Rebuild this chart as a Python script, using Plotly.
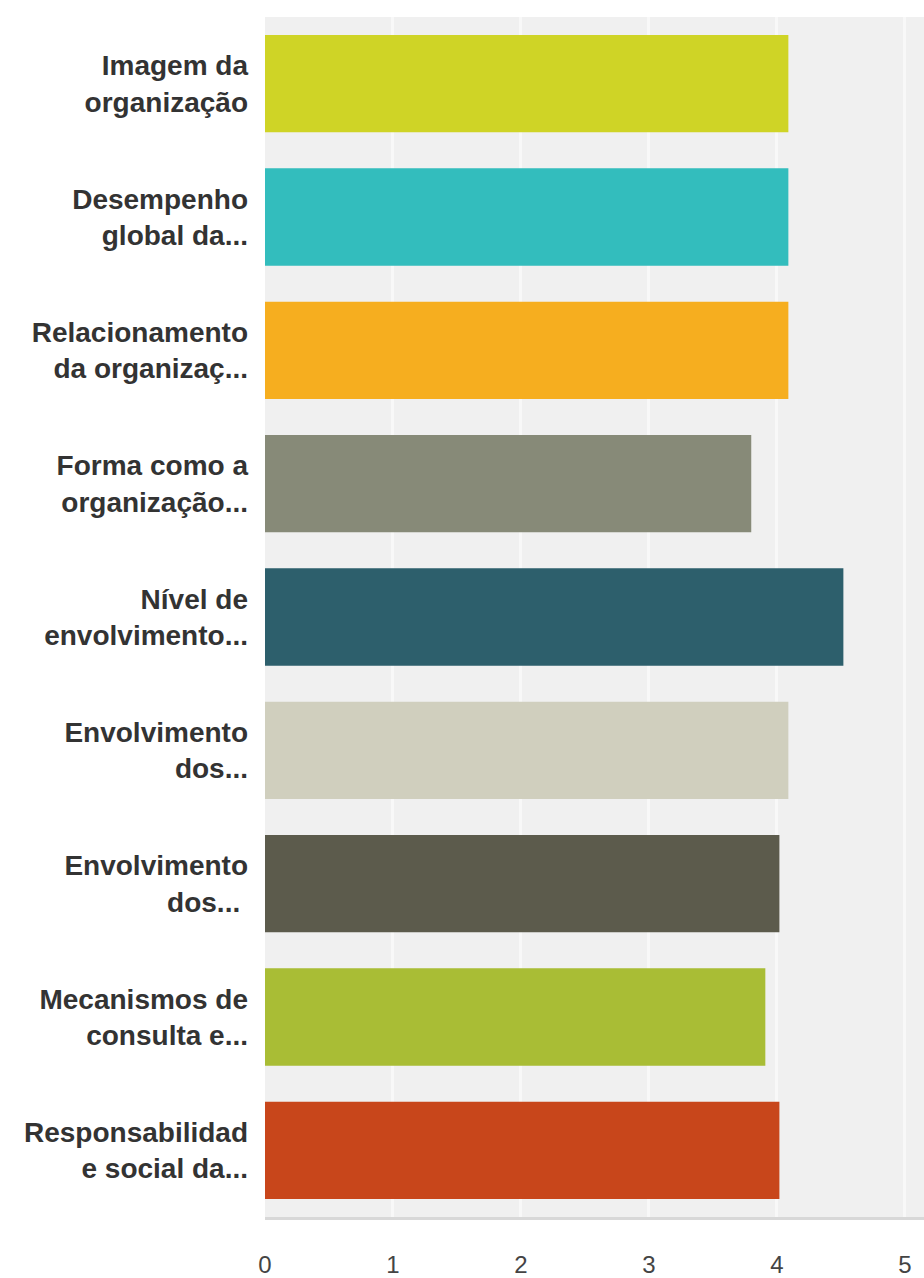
import plotly.graph_objects as go

# Survey item labels (truncated as displayed) and their average scores
categories = [
    "Imagem da<br>organização",
    "Desempenho<br>global da...",
    "Relacionamento<br>da organizaç...",
    "Forma como a<br>organização...",
    "Nível de<br>envolvimento...",
    "Envolvimento<br>dos...",
    "Envolvimento<br>dos... ",
    "Mecanismos de<br>consulta e...",
    "Responsabilidad<br>e social da...",
]
scores = [4.09, 4.09, 4.09, 3.80, 4.52, 4.09, 4.02, 3.91, 4.02]
bar_colors = [
    "#cfd426", "#33bdbd", "#f6ae1f", "#878a78", "#2d5f6c",
    "#d0cfbe", "#5c5b4c", "#a9bd35", "#c8461b",
]
x_ticks = [0, 1, 2, 3, 4, 5]

fig = go.Figure(
    go.Bar(
        x=scores,
        y=categories,
        orientation="h",
        marker=dict(color=bar_colors, line=dict(width=0)),
        hoverinfo="x+y",
    )
)

fig.update_layout(
    width=924,
    height=1278,
    margin=dict(l=265, r=0, t=17, b=61),
    paper_bgcolor="white",
    plot_bgcolor="#f0f0f0",
    bargap=0.27,
    showlegend=False,
    font=dict(family="Liberation Sans, Arial, sans-serif"),
)

fig.update_xaxes(
    range=[0, 5.15],
    tickvals=x_ticks,
    ticktext=[str(t) for t in x_ticks],
    showgrid=True,
    gridcolor="#f8f8f8",
    gridwidth=3,
    zeroline=False,
    showline=True,
    linecolor="#d8d8d8",
    linewidth=3,
    tickfont=dict(size=24, color="#444444"),
    ticks="",
    ticklabelstandoff=24,
    fixedrange=True,
)

fig.update_yaxes(
    autorange="reversed",
    showgrid=False,
    zeroline=False,
    showline=False,
    tickfont=dict(size=28, color="#333333", family="Liberation Sans, Arial, sans-serif", weight="bold"),
    ticks="",
    ticklabelstandoff=16,
    fixedrange=True,
)

fig.write_html("out.html")
